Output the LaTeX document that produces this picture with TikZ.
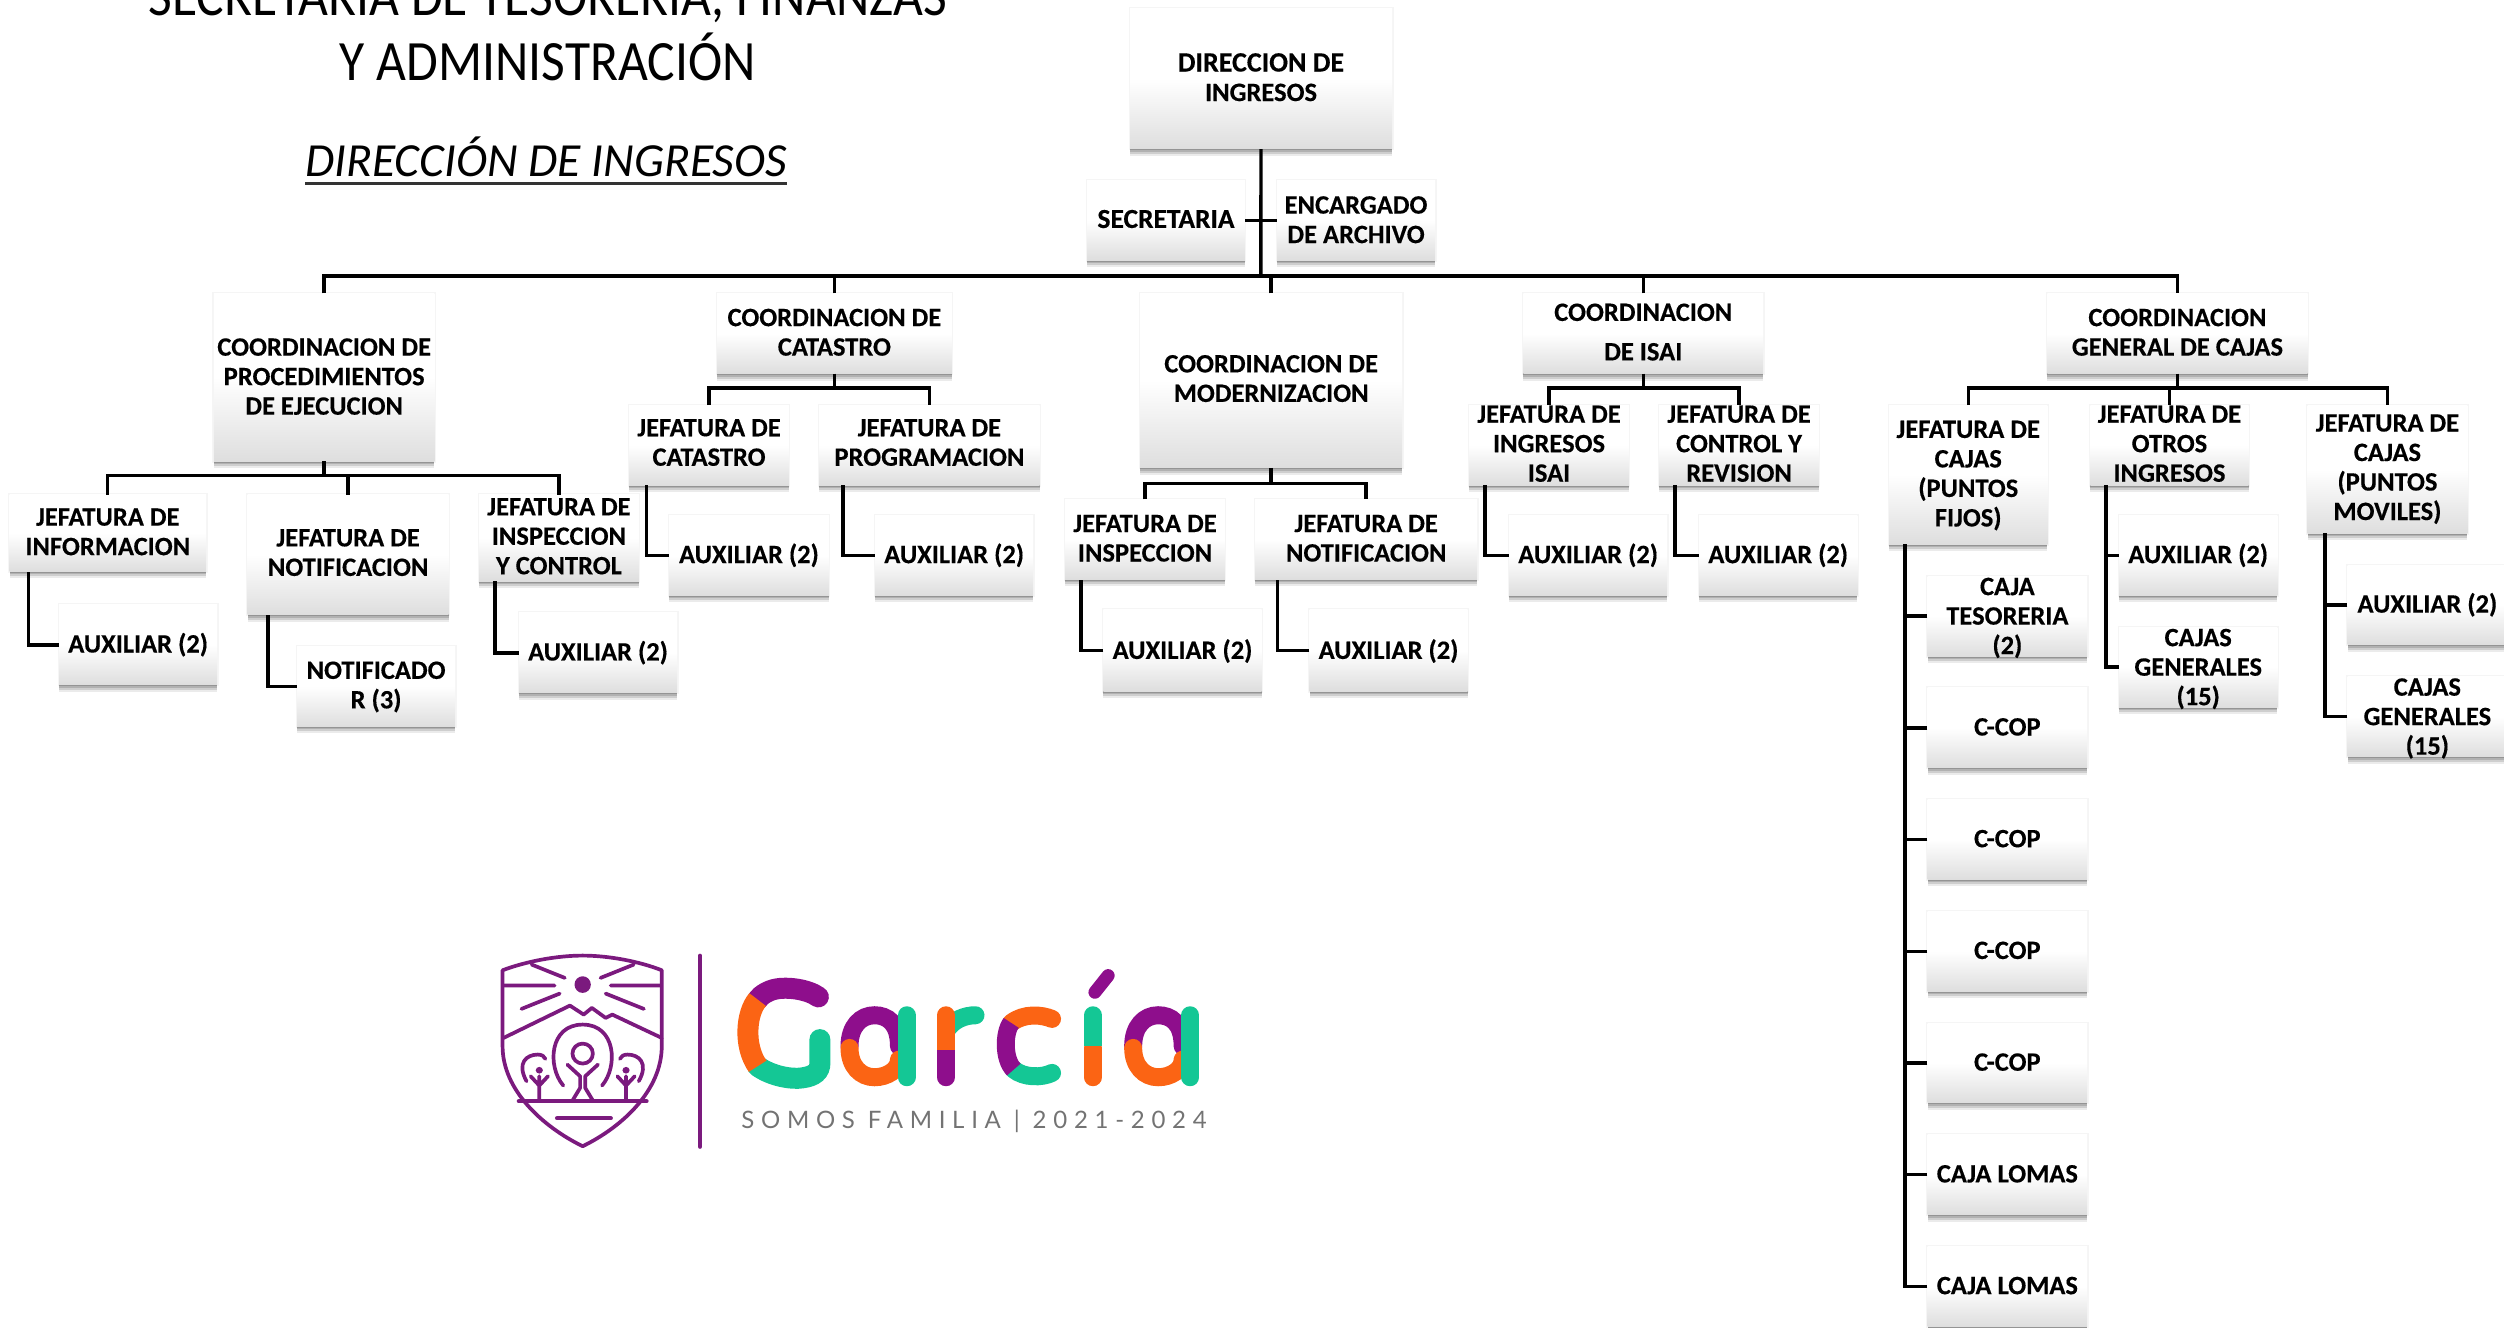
\documentclass[tikz,border=0pt]{standalone}
\usepackage{fontspec}
\setmainfont{Carlito}[BoldFeatures={FakeBold=0.35}]
\newfontfamily\tagfont[LetterSpace=28]{Lato}
\usetikzlibrary{shadows,calc}
\definecolor{logop}{HTML}{7B1A7E}
\definecolor{logopb}{HTML}{8E0E8C}
\definecolor{logoo}{HTML}{FB6414}
\definecolor{logog}{HTML}{14C795}
\tikzset{
  orgbox/.style={rectangle,inner sep=0pt,align=center,font=\fontsize{26.5}{29.5}\selectfont\bfseries,
    top color=white,bottom color=black!13,middle color=white,
    preaction={draw=black!4,line width=3pt},
    general shadow={shadow yshift=-1.5pt,opacity=.12,fill=black},
    general shadow={shadow yshift=-3pt,opacity=.14,fill=black},
    general shadow={shadow yshift=-5pt,opacity=.12,fill=black},
    general shadow={shadow yshift=-7pt,opacity=.08,fill=black}},
  wire/.style={line width=3.4pt,black},
  titletext/.style={inner sep=0pt,anchor=base,font=\fontsize{57}{60}\selectfont},
  shield/.style={draw=logop,line width=3.7pt,line cap=round,line join=round},
  letterp/.style={draw=logopb,line width=18pt,line cap=round},
  lettero/.style={draw=logoo,line width=18pt,line cap=round},
  letterg/.style={draw=logog,line width=18pt,line cap=round},
}
% name, x1, y1, x2, y2, y of the last baseline, text
\newcommand\bx[7]{%
  \pgfmathsetmacro\bxw{(#4-#2)*1.59694}%
  \pgfmathsetmacro\bxh{(#5-#3)*1.59615}%
  \pgfmathsetmacro\bxb{(#6+0.8-(#3+#5)/2)*1.59615*2}%
  \pgfmathsetmacro\bxth{max(\bxb,0)}%
  \pgfmathsetmacro\bxtd{max(-\bxb,0)}%
  \node[orgbox,minimum width=\bxw pt,minimum height=\bxh pt,text height=\bxth pt,text depth=\bxtd pt] (#1) at ({(#2+#4)/2},{(#3+#5)/2}) {#7};}
\newcommand\elbow[3]{\draw[wire] (#3.west) -| ($(#1.south west)+(#2,0)$);}
\newcommand\bowl[1]{%
  \begin{scope}[shift={(#1,0)}]
  \draw[letterp] (-49,440) .. controls (-49,380) and (-27,347) .. (0,347) .. controls (25,347) and (48,370) .. (48,440);
  \draw[lettero] (-49,445) .. controls (-49,500) and (-27,533) .. (0,533) .. controls (25,533) and (48,510) .. (48,480);
  \draw[letterg] (63,347) -- (63,533);
  \end{scope}}
\begin{document}
\begin{tikzpicture}[x=1.59694pt,y=-1.59615pt]
\useasboundingbox (0,0) rectangle (1568,832);
\clip (0,0) rectangle (1568,832);
% titles
\node[titletext] (t1) at (343,9.8) {\scalebox{.905}[1]{SECRETARIA DE TESORERIA, FINANZAS}};
\node[titletext] (t2) at (343,50.2) {\scalebox{.905}[1]{Y ADMINISTRACIÓN}};
\node[titletext,font=\fontsize{47.5}{56}\selectfont\itshape] (t3) at (342,110.5) {DIRECCIÓN DE INGRESOS};
\draw[line width=2.6pt,black!80] ($(t3.base west)+(0,4.5)$) -- ($(t3.base east)+(0,4.5)$);
% top
\bx{dir}{707.6}{5.6}{871.7}{93.3}{62.5}{\fontsize{28}{30}\selectfont DIRECCION DE\\INGRESOS}
\bx{sec}{680.7}{113}{779.6}{163}{142}{\fontsize{27.5}{30}\selectfont SECRETARIA}
\bx{arc}{799.7}{113}{898.6}{163}{151.5}{ENCARGADO\\DE ARCHIVO}
% coordinations
\bx{c1}{134}{184}{272}{289}{259}{COORDINACION DE\\PROCEDIMIENTOS\\DE EJECUCION}
\bx{c2}{449}{184}{596}{234}{222}{COORDINACION DE\\CATASTRO}
\bx{c3}{714}{184}{878}{293}{251}{COORDINACION DE\\MODERNIZACION}
\bx{c4}{954}{184}{1104}{234}{225}{COORDINACION\\[10pt]DE ISAI}
\bx{c5}{1282}{184}{1445}{234}{222}{COORDINACION\\GENERAL DE CAJAS}
% branch 1
\bx{j11}{6}{310}{129}{358}{347}{JEFATURA DE\\INFORMACION}
\bx{j12}{155}{310}{281}{385}{360}{JEFATURA DE\\NOTIFICACION}
\bx{j13}{300}{310}{400}{364}{359}{JEFATURA DE\\INSPECCION\\Y CONTROL}
\bx{a11}{37}{379}{136}{429}{408}{AUXILIAR (2)}
\bx{a12}{186}{405}{285}{455}{443}{NOTIFICADO\\R (3)}
\bx{a13}{325}{384}{424}{434}{413}{AUXILIAR (2)}
% branch 2
\bx{j21}{394}{254}{494}{304}{291}{JEFATURA DE\\CATASTRO}
\bx{j22}{513}{254}{651}{304}{291}{JEFATURA DE\\PROGRAMACION}
\bx{a21}{419}{323}{519}{373}{352}{AUXILIAR (2)}
\bx{a22}{548}{323}{647}{373}{352}{AUXILIAR (2)}
% branch 3
\bx{j31}{667}{313}{767}{363}{351}{JEFATURA DE\\INSPECCION}
\bx{j32}{786}{313}{925}{363}{351}{JEFATURA DE\\NOTIFICACION}
\bx{a31}{691}{382}{790}{433}{412}{AUXILIAR (2)}
\bx{a32}{820}{382}{919}{433}{412}{AUXILIAR (2)}
% branch 4
\bx{j41}{920}{254}{1020}{304}{301}{JEFATURA DE\\INGRESOS\\ISAI}
\bx{j42}{1039}{254}{1139}{304}{301}{JEFATURA DE\\CONTROL Y\\REVISION}
\bx{a41}{945}{323}{1044}{373}{352}{AUXILIAR (2)}
\bx{a42}{1064}{323}{1163}{373}{352}{AUXILIAR (2)}
% branch 5
\bx{j51}{1183}{254}{1282}{341}{329}{JEFATURA DE\\CAJAS\\(PUNTOS\\FIJOS)}
\bx{j52}{1309}{254}{1408}{304}{301}{JEFATURA DE\\OTROS\\INGRESOS}
\bx{j53}{1445}{254}{1545}{334}{325}{JEFATURA DE\\CAJAS\\(PUNTOS\\MOVILES)}
\bx{k1}{1207}{361}{1307}{411}{409}{CAJA\\TESORERIA\\(2)}
\bx{k2}{1207}{431}{1307}{481}{460}{C-COP}
\bx{k3}{1207}{501}{1307}{551}{530}{C-COP}
\bx{k4}{1207}{571}{1307}{621}{600}{C-COP}
\bx{k5}{1207}{641}{1307}{691}{670}{C-COP}
\bx{k6}{1207}{711}{1307}{761}{740}{CAJA LOMAS}
\bx{k7}{1207}{781}{1307}{831}{810}{CAJA LOMAS}
\bx{o1}{1327}{323}{1426}{373}{352}{AUXILIAR (2)}
\bx{o2}{1327}{393}{1426}{443}{441}{CAJAS\\GENERALES\\(15)}
\bx{m1}{1470}{354}{1570}{404}{383}{AUXILIAR (2)}
\bx{m2}{1470}{424}{1570}{474}{472}{CAJAS\\GENERALES\\(15)}
% connectors
\coordinate (top) at (789.5,173);
\coordinate (b1) at (203,298);
\coordinate (b2) at (522.5,243);
\coordinate (b3) at (796,303);
\coordinate (b4) at (1029,243);
\coordinate (b5) at (1363.5,243);
\draw[wire] (dir.south) -- (top);
\draw[wire] (sec.east) -- (arc.west);
\draw[wire] (c1.north) |- (top) -| (c5.north);
\draw[wire] (c2.north) -- (c2.north |- top);
\draw[wire] (c3.north) -- (c3.north |- top);
\draw[wire] (c4.north) -- (c4.north |- top);
\draw[wire] (c1.south) -- (b1);
\draw[wire] (j11.north) |- (b1) -| (j13.north);
\draw[wire] (j12.north) -- (j12.north |- b1);
\elbow{j11}{12}{a11}
\elbow{j12}{13}{a12}
\elbow{j13}{10}{a13}
\draw[wire] (c2.south) -- (b2);
\draw[wire] (j21.north) |- (b2) -| (j22.north);
\elbow{j21}{11}{a21}
\elbow{j22}{15}{a22}
\draw[wire] (c3.south) -- (b3);
\draw[wire] (j31.north) |- (b3) -| (j32.north);
\elbow{j31}{10}{a31}
\elbow{j32}{14}{a32}
\draw[wire] (c4.south) -- (b4);
\draw[wire] (j41.north) |- (b4) -| (j42.north);
\elbow{j41}{10}{a41}
\elbow{j42}{10}{a42}
\draw[wire] (c5.south) -- (b5);
\draw[wire] (j51.north) |- (b5) -| (j53.north);
\draw[wire] (j52.north) -- (j52.north |- b5);
\elbow{j51}{10}{k7}
\foreach \k in {k1,k2,k3,k4,k5,k6} {\draw[wire] (\k.west) -- (\k.west -| {$(j51.south west)+(10,0)$});}
\elbow{j52}{10}{o2}
\draw[wire] (o1.west) -- (o1.west -| {$(j52.south west)+(10,0)$});
\elbow{j53}{11}{m2}
\draw[wire] (m1.west) -- (m1.west -| {$(j53.south west)+(11,0)$});
% logo
\begin{scope}[shift={(281.8,563.6)},x=0.5102pt,y=-0.3333pt]
 \draw[shield] (103,212) .. controls (150,185) and (210,168) .. (260,168) .. controls (310,168) and (370,185) .. (415,212)
   -- (415,440) .. controls (415,570) and (340,680) .. (260,740) .. controls (180,680) and (103,570) .. (103,440) -- cycle;
 \fill[logop] (260,255) ellipse [x radius=16,y radius=25];
 \draw[shield] (160,195) -- (225,235) (360,195) -- (295,235) (105,258) -- (205,258) (315,258) -- (412,258) (140,328) -- (215,282) (380,328) -- (305,282);
 \draw[shield] (105,415) -- (235,318) -- (262,345) -- (278,325) -- (305,355) -- (318,345) -- (415,415);
 \draw[shield] (222,558) .. controls (190,500) and (195,375) .. (260,375) .. controls (325,375) and (330,500) .. (298,558);
 \draw[shield] (260,462) ellipse [x radius=20,y radius=30];
 \draw[shield] (230,495) -- (255,530) -- (255,565) -- (240,603) (290,495) -- (265,530) -- (265,565) -- (280,603);
 \foreach \m/\s in {0/1,520/-1} {
 \begin{scope}[shift={(\m,0)},x=\s*0.5102pt]
  \draw[shield] (150,545) .. controls (130,490) and (150,465) .. (172,465) .. controls (180,465) and (185,470) .. (187,478);
  \draw[shield] (158,530) -- (175,558) -- (192,530) (175,530) -- (175,603);
  \fill[logop] (175,512) circle [x radius=7,y radius=10];
 \end{scope}}
 \draw[shield,line width=4.4pt] (135,605) -- (385,605);
 \draw[shield,line width=4.4pt] (210,656) -- (315,656);
 \draw[draw=logop,line width=3.8pt,line cap=round] (490,168) -- (490,742);
 % Garcia letters
 \draw[letterp,line width=21pt] (722,292) .. controls (700,268) and (660,262) .. (640,268) .. controls (625,272) and (610,285) .. (603,300);
 \draw[letterg,line width=21pt] (603,500) .. controls (630,530) and (670,540) .. (690,535) .. controls (715,530) and (725,515) .. (725,490) -- (725,420);
 \draw[lettero,line width=21pt,line cap=butt] (603,300) .. controls (580,340) and (575,440) .. (603,500);
 \bowl{832}
 \draw[letterg] (972,395) .. controls (985,360) and (1010,347) .. (1030,347);
 \draw[lettero] (972,347) -- (972,450);
 \draw[letterp] (972,533) -- (972,500);
 \draw[letterp,line cap=butt] (972,500) -- (972,450);
 \draw[letterg] (1180,520) .. controls (1160,535) and (1125,535) .. (1105,510);
 \draw[lettero] (1180,358) .. controls (1160,345) and (1125,340) .. (1100,370);
 \draw[letterp,line cap=butt] (1100,370) .. controls (1085,400) and (1085,480) .. (1105,510);
 \draw[lettero] (1260,533) -- (1260,445);
 \draw[letterg] (1260,347) -- (1260,400);
 \draw[letterg,line cap=butt] (1260,400) -- (1260,440);
 \draw[letterp,line width=13pt] (1290,228) -- (1264,278);
 \bowl{1388}
 \node[inner sep=0pt,anchor=base,text=black!55,font=\tagfont\fontsize{24}{26}\selectfont] (tag) at (1027,686) {SOMOS FAMILIA | 2021-2024};
\end{scope}
\end{tikzpicture}
\end{document}
